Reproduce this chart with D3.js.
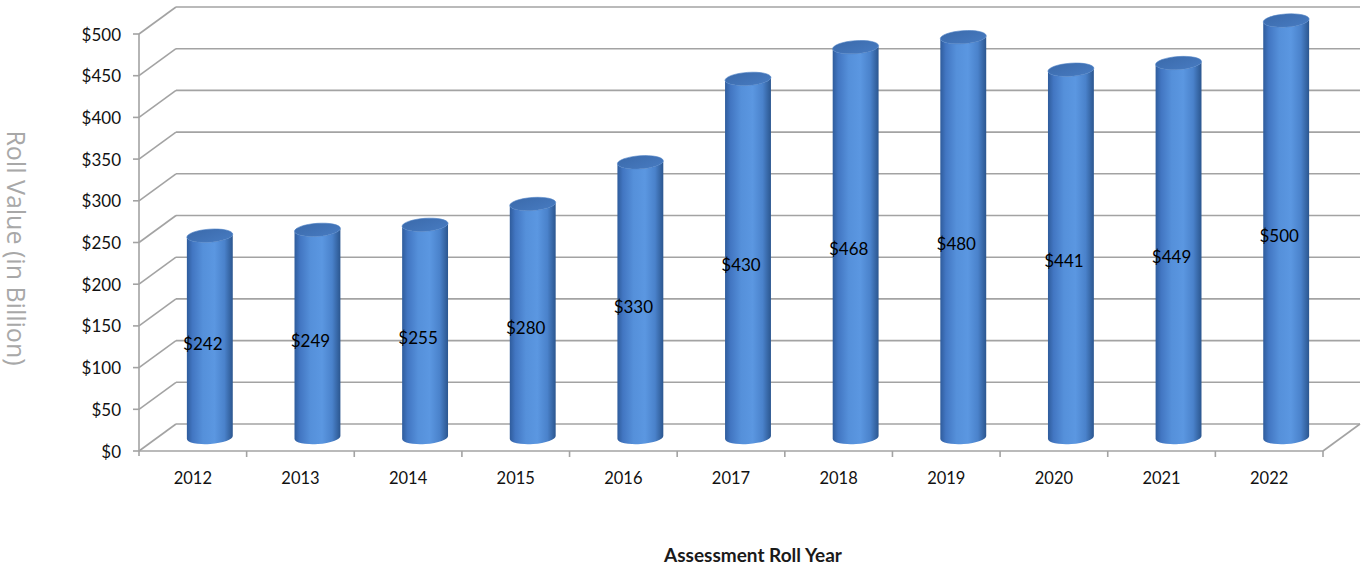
<!DOCTYPE html>
<html>
<head>
<meta charset="utf-8">
<script src="https://cdn.jsdelivr.net/npm/d3@7"></script>
<style>
  html, body { margin: 0; padding: 0; background: #fff; }
  svg { display: block; }
</style>
</head>
<body>
<svg id="chart" width="1369" height="567"></svg>
<script>
// ---- data ----
const years = ["2012","2013","2014","2015","2016","2017","2018","2019","2020","2021","2022"];
const rollValues = [242, 249, 255, 280, 330, 430, 468, 480, 441, 449, 500];
const yTicks = [0, 50, 100, 150, 200, 250, 300, 350, 400, 450, 500];
const yTickLabels = ["$0","$50","$100","$150","$200","$250","$300","$350","$400","$450","$500"];
const valueLabels = ["$242","$249","$255","$280","$330","$430","$468","$480","$441","$449","$500"];
const xTitle = "Assessment Roll Year";
const yTitle = "Roll Value (in Billion)";

// ---- layout ----
const svg = d3.select("#chart");
const x0 = 139, x1 = 1323, yBottom = 451, yTop = 34;
const dx = 37, dy = -27;          // depth offset of back wall
const gridColor = "#a3a3a3";
const font = "Lato, 'Open Sans', sans-serif";

const x = d3.scaleBand().domain(years).range([x0, x1]).paddingInner(0).paddingOuter(0);
const y = d3.scaleLinear().domain([0, 500]).range([yBottom, yTop]);

// gradient for cylinders
const defs = svg.append("defs");
const g1 = defs.append("linearGradient").attr("id", "cyl").attr("x1", "0").attr("x2", "1").attr("y1", "0").attr("y2", "0");
[["0%", "#2f5c9c"], ["12%", "#4276c2"], ["35%", "#5590da"], ["60%", "#5b97e1"], ["82%", "#4a82cb"], ["100%", "#2b568f"]]
  .forEach(([o, c]) => g1.append("stop").attr("offset", o).attr("stop-color", c));
const g2 = defs.append("linearGradient").attr("id", "cyltop").attr("x1", "0").attr("x2", "1").attr("y1", "0").attr("y2", "1");
[["0%", "#3b6aab"], ["100%", "#477bc1"]]
  .forEach(([o, c]) => g2.append("stop").attr("offset", o).attr("stop-color", c));

const grid = svg.append("g").attr("fill", "none").attr("stroke", gridColor).attr("stroke-width", 1.6);

// back wall horizontal lines & left wall diagonals
yTicks.forEach(v => {
  grid.append("line").attr("x1", x0 + dx).attr("x2", x1 + dx)
    .attr("y1", y(v) + dy).attr("y2", y(v) + dy);
  grid.append("line").attr("x1", x0).attr("y1", y(v))
    .attr("x2", x0 + dx).attr("y2", y(v) + dy);
  grid.append("line").attr("x1", x0 - 6).attr("x2", x0)
    .attr("y1", y(v)).attr("y2", y(v));
});
// front vertical axis
grid.append("line").attr("x1", x0).attr("x2", x0).attr("y1", y(500)).attr("y2", y(0) + 5);
// floor front edge and right edge
grid.append("line").attr("x1", x0).attr("x2", x1).attr("y1", y(0)).attr("y2", y(0));
grid.append("line").attr("x1", x1).attr("y1", y(0)).attr("x2", x1 + dx).attr("y2", y(0) + dy);
// category ticks
years.forEach(yr => {
  grid.append("line").attr("x1", x(yr) + x.bandwidth()).attr("x2", x(yr) + x.bandwidth())
    .attr("y1", y(0)).attr("y2", y(0) + 6);
});

// y axis tick labels
svg.append("g").selectAll("text").data(yTicks).join("text")
  .attr("x", 121).attr("y", d => y(d))
  .attr("text-anchor", "end").attr("dominant-baseline", "central")
  .attr("font-family", font).attr("font-size", 17).attr("fill", "#111")
  .text((d, i) => yTickLabels[i]);

// x axis labels
svg.append("g").selectAll("text").data(years).join("text")
  .attr("x", d => x(d) + x.bandwidth() / 2).attr("y", 478)
  .attr("text-anchor", "middle").attr("dominant-baseline", "central")
  .attr("font-family", font).attr("font-size", 16.5).attr("fill", "#111")
  .text(d => d);

// cylinders
const rx = 23, ry = 6.5, rot = -4;
const rad = rot * Math.PI / 180;
const ex = rx * Math.cos(rad), ey = rx * Math.sin(rad);
const cyl = svg.append("g");
years.forEach((yr, i) => {
  const cx = x(yr) + x.bandwidth() / 2 + 17;
  const topY = y(rollValues[i]) + dy / 2;
  const botY = y(0) + dy / 2;
  const body = `M${cx - ex},${topY - ey} L${cx - ex},${botY - ey} A${rx},${ry} ${rot} 0 0 ${cx + ex},${botY + ey} L${cx + ex},${topY + ey} A${rx},${ry} ${rot} 0 1 ${cx - ex},${topY - ey} Z`;
  cyl.append("path").attr("d", body).attr("fill", "url(#cyl)");
  cyl.append("ellipse").attr("cx", cx).attr("cy", topY).attr("rx", rx).attr("ry", ry)
    .attr("transform", `rotate(${rot},${cx},${topY})`)
    .attr("fill", "url(#cyltop)").attr("stroke", "#4d80c4").attr("stroke-width", 0.6);
});

// value labels
svg.append("g").selectAll("text").data(rollValues).join("text")
  .attr("x", (d, i) => x(years[i]) + x.bandwidth() / 2 + 10)
  .attr("y", d => y(d / 2) - 7)
  .attr("text-anchor", "middle").attr("dominant-baseline", "central")
  .attr("font-family", font).attr("font-size", 17).attr("fill", "#000")
  .text((d, i) => valueLabels[i]);

// axis titles
svg.append("text").attr("x", 753).attr("y", 554)
  .attr("text-anchor", "middle").attr("dominant-baseline", "central")
  .attr("font-family", font).attr("font-weight", "bold").attr("font-size", 19).attr("fill", "#1a1a1a")
  .text(xTitle);

svg.append("text").attr("transform", "translate(17,248) rotate(90)")
  .attr("text-anchor", "middle").attr("dominant-baseline", "central")
  .attr("font-family", "'Open Sans', sans-serif").attr("font-size", 25).attr("fill", "#a8a8a8")
  .text(yTitle);
</script>
</body>
</html>
